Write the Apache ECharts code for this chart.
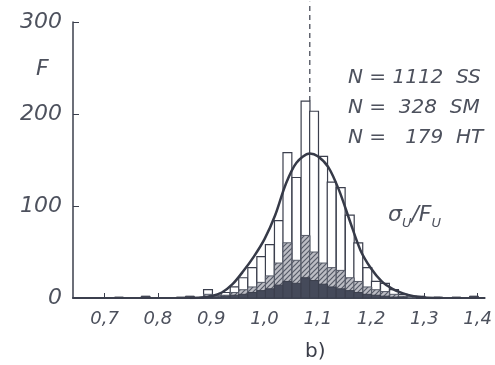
<!DOCTYPE html>
<html>
<head>
<meta charset="utf-8">
<script src="https://cdn.jsdelivr.net/npm/echarts@6/dist/echarts.min.js"></script>
<style>
  html, body { margin: 0; padding: 0; background: #fff; }
  #hist-chart { width: 495px; height: 365px; }
</style>
</head>
<body>
<div id="hist-chart"></div>
<script>
// bin centres of the histogram (width binWidth)
const binWidth = 0.0166;
const binCenters = [0.894, 0.911, 0.927, 0.944, 0.960, 0.977, 0.994, 1.010, 1.027, 1.043, 1.060, 1.077,
  1.093, 1.110, 1.126, 1.143, 1.160, 1.176, 1.193, 1.209, 1.226, 1.243, 1.259, 1.276];
// all specimens (open bars)
const totalCounts = [9, 3, 6, 12, 22, 33, 45, 58, 84, 158, 131, 214, 203, 154, 126, 120, 90, 60, 33, 18, 16, 9, 4, 2];
// SM + HT (hatched bars)
const smCounts = [4, 2, 3, 6, 9, 12, 17, 24, 38, 60, 41, 68, 50, 38, 33, 30, 22, 18, 12, 9, 7, 4, 2, 1];
// HT (dark bars)
const htCounts = [1, 1, 2, 3, 4, 6, 8, 10, 14, 18, 16, 22, 19, 15, 12, 10, 8, 6, 4, 3, 2, 1, 1, 0];
// scattered single values in the tails
const tailCenters = [0.727, 0.777, 0.843, 0.860, 1.293, 1.326, 1.360, 1.393];
const tailCounts = [1, 2, 1, 2, 2, 1, 1, 2];

// fitted normal curve
const curveX = [0.86, 0.88, 0.90, 0.92, 0.94, 0.96, 0.98, 1.00, 1.02, 1.04, 1.06, 1.085, 1.10, 1.12, 1.14, 1.16, 1.18, 1.20, 1.22, 1.24, 1.26, 1.28, 1.30, 1.33];
const curveY = [0, 0.5, 2, 6, 15, 29, 45, 64, 90, 124, 147, 157, 154, 142, 117, 84, 52, 32, 18, 10, 5, 2, 0.5, 0];

const meanValue = 1.085;
const xTicks = [0.7, 0.8, 0.9, 1.0, 1.1, 1.2, 1.3, 1.4];
const annotations = ["N = 1112  SS", "N =  328  SM", "N =   179  HT"];

const ink = "#3b3f4d";
const textInk = "#4d515d";
const font = "'DejaVu Sans', sans-serif";

/* hatch pattern for the SM bars */
const pc = document.createElement("canvas");
pc.width = 5;
pc.height = 5;
const ctx = pc.getContext("2d");
ctx.fillStyle = "#bcbdc4";
ctx.fillRect(0, 0, 5, 5);
ctx.strokeStyle = "#555a67";
ctx.lineWidth = 1.2;
ctx.beginPath();
ctx.moveTo(0, 5); ctx.lineTo(5, 0);
ctx.moveTo(-1, 1); ctx.lineTo(1, -1);
ctx.moveTo(4, 6); ctx.lineTo(6, 4);
ctx.stroke();

function barSeries(centers, counts, style) {
  return {
    type: "custom",
    data: centers.map((c, i) => [c, counts[i]]),
    renderItem: function(params, api) {
      const c = api.value(0);
      const v = api.value(1);
      if (!v) return null;
      const p0 = api.coord([c - binWidth / 2, v]);
      const p1 = api.coord([c + binWidth / 2, 0]);
      return {
        type: "rect",
        shape: { x: p0[0], y: p0[1], width: p1[0] - p0[0], height: p1[1] - p0[1] },
        style: style
      };
    },
    z: 2
  };
}

const chart = echarts.init(document.getElementById("hist-chart"));
const options = {
  animation: false,
  grid: { left: 73, right: 5, top: 22, bottom: 67 },
  xAxis: {
    type: "value",
    min: 0.6407,
    max: 1.413,
    splitLine: { show: false },
    axisLine: { lineStyle: { color: ink, width: 2 } },
    axisTick: { inside: true, length: 5, customValues: xTicks, lineStyle: { color: ink } },
    axisLabel: {
      customValues: xTicks,
      formatter: v => v.toFixed(1).replace(".", ","),
      color: textInk,
      fontFamily: font,
      fontStyle: "italic",
      fontWeight: 200,
      fontSize: 18,
      margin: 12
    }
  },
  yAxis: {
    type: "value",
    min: 0,
    max: 300,
    interval: 100,
    splitLine: { show: false },
    axisLine: { show: true, lineStyle: { color: ink, width: 1.5 } },
    axisTick: { inside: true, length: 6, lineStyle: { color: ink } },
    axisLabel: {
      color: textInk,
      fontFamily: font,
      fontStyle: "italic",
      fontWeight: 200,
      fontSize: 22,
      margin: 11
    }
  },
  series: [
    barSeries(binCenters, totalCounts, { fill: "#fff", stroke: ink, lineWidth: 1.2 }),
    barSeries(tailCenters, tailCounts, { fill: ink, stroke: ink, lineWidth: 1 }),
    barSeries(binCenters, smCounts, { fill: { image: pc, repeat: "repeat" }, stroke: "#555a67", lineWidth: 1 }),
    barSeries(binCenters, htCounts, { fill: "#454a5a", stroke: "#3b3f4d", lineWidth: 1 }),
    {
      type: "line",
      data: curveX.map((x, i) => [x, curveY[i]]),
      smooth: 0.3,
      symbol: "none",
      lineStyle: { color: "#363a48", width: 2.5 },
      z: 5
    },
    {
      type: "custom",
      clip: false,
      data: [[meanValue, 214, 322]],
      renderItem: function(params, api) {
        const a = api.coord([api.value(0), api.value(1)]);
        const b = api.coord([api.value(0), api.value(2)]);
        return {
          type: "line",
          shape: { x1: a[0], y1: a[1], x2: b[0], y2: b[1] },
          style: { stroke: ink, lineWidth: 1.2, lineDash: [5, 4] }
        };
      },
      z: 4
    }
  ],
  graphic: [
    { type: "text", left: 36, top: 58, style: { text: "F", font: "italic 200 22px " + font, fill: textInk } },
    {
      type: "group", left: 348, top: 68,
      children: annotations.map((t, i) => ({
        type: "text", x: 0, y: i * 30,
        style: { text: t, font: "italic 200 20px " + font, fill: textInk }
      }))
    },
    {
      type: "text", left: 388, top: 204,
      style: {
        text: "{a|σ}{s|U}{a|/F}{s|U}",
        rich: {
          a: { font: "italic 200 22px " + font, fill: textInk, verticalAlign: "bottom" },
          s: { font: "italic 200 13px " + font, fill: textInk, verticalAlign: "bottom", padding: [0, 0, -4, 0] }
        }
      }
    },
    { type: "text", left: 305, top: 342, style: { text: "b)", font: "20px " + font, fill: "#3a3d48" } }
  ]
};
chart.setOption(options);
</script>
</body>
</html>
